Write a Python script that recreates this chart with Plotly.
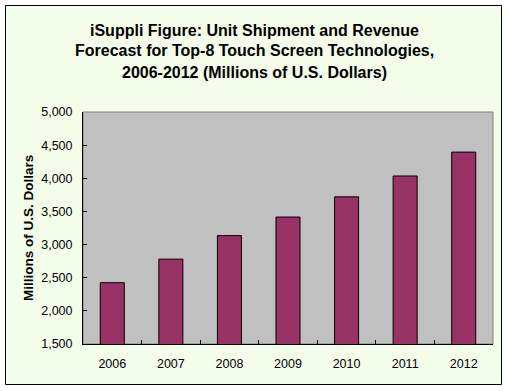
import plotly.graph_objects as go

years = ["2006", "2007", "2008", "2009", "2010", "2011", "2012"]
revenue = [2425, 2780, 3135, 3415, 3720, 4035, 4395]
title_lines = [
    "iSuppli Figure: Unit Shipment and Revenue",
    "Forecast for Top-8 Touch Screen Technologies,",
    "2006-2012 (Millions of U.S. Dollars)",
]
y_title = "Millions of U.S. Dollars"

W, H = 508, 391
L, R, T, B = 83, 15, 112, 47
pw, ph = W - L - R, H - T - B

def px_x(x):
    return (x - L) / pw

def px_y(y):
    return (H - B - y) / ph

FONT = "Liberation Sans, Arial"

fig = go.Figure()
fig.add_trace(go.Bar(
    x=years, y=revenue,
    marker=dict(color="#993366", line=dict(color="black", width=1)),
    width=0.41,
))

shapes = [
    dict(type="rect", xref="paper", yref="paper", layer="below",
         x0=px_x(5.5), x1=px_x(501.5), y0=px_y(384.5), y1=px_y(5.5),
         fillcolor="#F3FDE9", line=dict(color="black", width=1)),
    dict(type="rect", xref="paper", yref="paper", layer="below",
         x0=0, x1=1, y0=0, y1=1,
         fillcolor="#C0C0C0", line=dict(color="#808080", width=1)),
]

annotations = []
for i, line in enumerate(title_lines):
    annotations.append(dict(
        text=f"<b>{line}</b>", xref="paper", yref="paper",
        x=px_x(W / 2), y=px_y(30 + 21 * i), xanchor="center", yanchor="middle",
        showarrow=False, font=dict(family=FONT, size=16, color="black"),
    ))
annotations.append(dict(
    text=f"<b>{y_title}</b>", xref="paper", yref="paper",
    x=px_x(28), y=0.5, xanchor="center", yanchor="middle", textangle=-90,
    showarrow=False, font=dict(family=FONT, size=13.5, color="black"),
))

fig.update_layout(
    width=W, height=H,
    margin=dict(l=L, r=R, t=T, b=B, pad=0),
    paper_bgcolor="white",
    plot_bgcolor="rgba(0,0,0,0)",
    showlegend=False,
    shapes=shapes,
    annotations=annotations,
    font=dict(family=FONT, size=12.5, color="black"),
    xaxis=dict(
        type="category", tickson="boundaries", ticks="inside", ticklen=4,
        tickcolor="black", showline=True, linecolor="black", linewidth=1,
        showgrid=False, tickfont=dict(size=12.5), ticklabelstandoff=8,
    ),
    yaxis=dict(
        range=[1500, 5000], dtick=500, tickformat=",", ticks="inside", ticklen=4,
        tickcolor="black", showline=True, linecolor="black", linewidth=1,
        showgrid=False, zeroline=False, tickfont=dict(size=12.5), ticklabelstandoff=7,
    ),
)

fig.write_html(
    "out.html",
    config={"displayModeBar": False},
    post_script="document.body.style.margin='0px';document.body.style.overflow='hidden';",
)
